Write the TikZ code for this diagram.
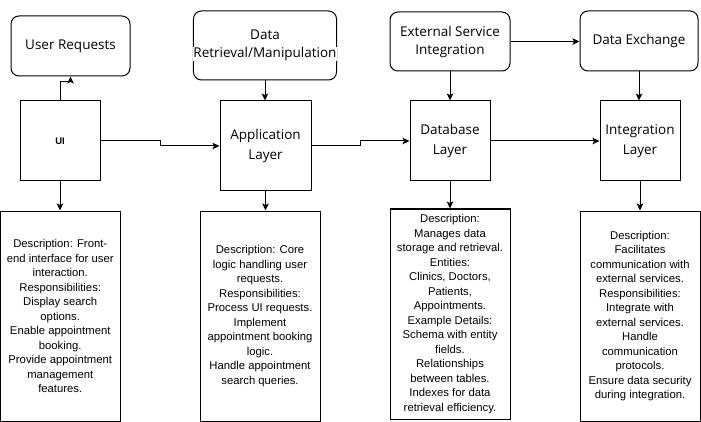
\documentclass[tikz,border=0pt]{standalone}
\usepackage{fontspec}
\setmainfont{Liberation Sans}
\newfontfamily\labelfont{Open Sans}
\usetikzlibrary{arrows.meta,backgrounds}

\tikzset{
  roundbox/.style={draw, line width=1pt, rounded corners=8pt, align=center,
    inner sep=0pt, font=\labelfont\fontsize{13.5}{18}\selectfont},
  layerbox/.style={draw, line width=1pt, align=center, inner sep=0pt,
    minimum width=80pt, minimum height=80pt,
    font=\labelfont\fontsize{13.5}{20}\selectfont},
  descbox/.style={draw, line width=1pt, align=center, inner sep=0pt,
    minimum width=120pt, minimum height=210pt,
    font=\fontsize{11.3}{14.5}\selectfont},
  conn/.style={line width=1pt, -{Stealth[length=7pt,width=6.5pt,inset=1.5pt]}}
}

\begin{document}
\begin{tikzpicture}[x=1pt,y=-1pt]
\useasboundingbox[fill=white] (0,0) rectangle (701,422);

% top row
\node[roundbox, minimum width=119pt, minimum height=60pt] (ureq) at (70.5,46) {User Requests};
\node[roundbox, minimum width=120pt, minimum height=69pt] (dret) at (265,45.5)
  {Data\\{\setlength{\fboxsep}{0pt}\colorbox{white}{Retrieval/Manipulation}}};
\node[roundbox, minimum width=120pt, minimum height=59pt] (extsrv) at (450,41.5) {External Service\\Integration};
\node[roundbox, minimum width=118pt, minimum height=60pt] (dexch) at (639,41) {Data Exchange};

% layers
\node[layerbox, font=\bfseries\fontsize{9.5}{12}\selectfont] (ui) at (60,141) {UI};
\node[layerbox, minimum width=91pt, minimum height=90pt] (applayer) at (265.5,146) {Application\\Layer};
\node[layerbox] (dblayer) at (450,141) {Database\\Layer};
\node[layerbox] (intlayer) at (640,141) {Integration\\Layer};

% descriptions
\node[descbox, minimum width=119.5pt] (uidesc) at (60.25,316)
  {Description: Front-\\end interface for user\\interaction.\\Responsibilities:\\Display search\\options.\\Enable appointment\\booking.\\Provide appointment\\management\\features.};
\node[descbox] (appdesc) at (260,316)
  {Description: Core\\logic handling user\\requests.\\Responsibilities:\\Process UI requests.\\Implement\\appointment booking\\logic.\\Handle appointment\\search queries.};
\node[descbox] (dbdesc) at (450,314)
  {Description:\\Manages data\\storage and retrieval.\\Entities:\\Clinics, Doctors,\\Patients,\\Appointments.\\Example Details:\\Schema with entity\\fields.\\Relationships\\between tables.\\Indexes for data\\retrieval efficiency.};
\node[descbox] (intdesc) at (640,316)
  {Description:\\Facilitates\\communication with\\external services.\\Responsibilities:\\Integrate with\\external services.\\Handle\\communication\\protocols.\\Ensure data security\\during integration.};

% connectors
\begin{scope}[on background layer]
\draw[conn] (ureq.east) -- ++(228,0) |- (extsrv.west);
\end{scope}
\draw[conn] (ui.north) -- ++(0,-19) -| (ureq.south);
\draw[conn] (dret.south) -- (dret.south |- applayer.north);
\draw[conn] (extsrv.east) -- (extsrv.east -| dexch.west);
\draw[conn] (extsrv.south) -- (dblayer.north);
\draw[conn] (dexch.south) -- (dexch.south |- intlayer.north);
\draw[conn] (ui.east) -- ++(60,0) |- (applayer.west);
\draw[conn] (applayer.east) -- ++(49,0) |- (dblayer.west);
\draw[conn] (dblayer.east) -- (intlayer.west);
\draw[conn] (ui.south) -- (ui.south |- uidesc.north);
\draw[conn] (applayer.south) -- (applayer.south |- appdesc.north);
\draw[conn] (dblayer.south) -- (dbdesc.north);
\draw[conn] (intlayer.south) -- (intdesc.north);

\end{tikzpicture}
\end{document}
